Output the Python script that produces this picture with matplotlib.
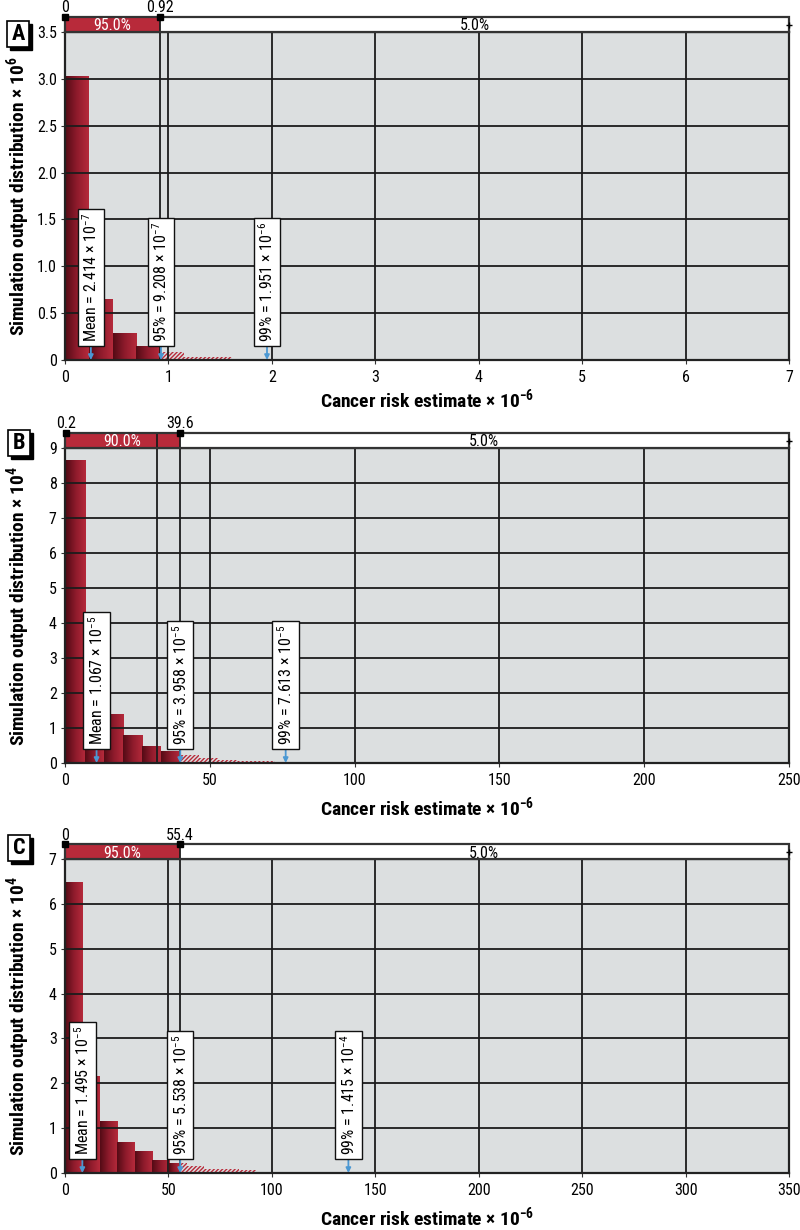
import numpy as np
import matplotlib
matplotlib.use('Agg')
import matplotlib.pyplot as plt
from matplotlib import font_manager as fm
from matplotlib.colors import LinearSegmentedColormap
from matplotlib.patches import Rectangle

# ---------- pick a condensed font if one is installed ----------
_entries = fm.fontManager.ttflist
_names = {f.name for f in _entries}
FAMILY = None
STRETCH = 'normal'
for cand in ['Liberation Sans Narrow', 'Roboto Condensed', 'Open Sans Condensed',
             'DejaVu Sans Condensed', 'Noto Sans Condensed']:
    if cand in _names:
        FAMILY = cand
        break
if FAMILY is None:
    for f in _entries:
        if f.stretch in ('condensed', 'semi-condensed') and f.name in (
                'DejaVu Sans', 'Roboto', 'Open Sans', 'Noto Sans', 'Liberation Sans', 'Inter'):
            FAMILY = f.name
            STRETCH = f.stretch
            break
if FAMILY is None:
    FAMILY = 'Roboto' if 'Roboto' in _names else 'DejaVu Sans'

plt.rcParams['font.family'] = [FAMILY, 'DejaVu Sans']
plt.rcParams['font.stretch'] = STRETCH
plt.rcParams['mathtext.fontset'] = 'custom'
_st = '' if STRETCH == 'normal' else ':stretch=' + STRETCH
plt.rcParams['mathtext.rm'] = FAMILY + _st
plt.rcParams['mathtext.bf'] = FAMILY + ':bold' + _st
plt.rcParams['mathtext.it'] = FAMILY + ':italic' + _st
plt.rcParams['hatch.linewidth'] = 1.0

# ---------------- data ----------------
# Panel A (x 10^-6, y 10^6)
a_solid_edges = [0, 0.23, 0.46, 0.69, 0.92]
a_solid_heights = [3.03, 0.654, 0.285, 0.15]
a_hatch_edges = [0.92, 1.15, 1.38, 1.61, 1.84, 2.07, 2.30, 2.53, 2.76]
a_hatch_heights = [0.082, 0.036, 0.034, 0.012, 0.011, 0.006, 0.0, 0.005]
a_marker_x = [0.25, 0.928, 1.953]
a_labels = ["Mean = 2.414 × 10$^{-7}$", "95% = 9.208 × 10$^{-7}$", "99% = 1.951 × 10$^{-6}$"]
a_strip_vals = [0, 0.92]
a_strip_ticklabels = ["0", "0.92"]
a_strip_texts = ["95.0%", "5.0%"]
a_vlines = [0.92]
a_xticks = [0, 1, 2, 3, 4, 5, 6, 7]
a_yticks = [0, 0.5, 1.0, 1.5, 2.0, 2.5, 3.0, 3.5]
a_yticklabels = ["0", "0.5", "1.0", "1.5", "2.0", "2.5", "3.0", "3.5"]

# Panel B (x 10^-6, y 10^4)
b_solid_edges = [0.2, 6.77, 13.33, 19.9, 26.47, 33.03, 39.6]
b_solid_heights = [8.66, 2.76, 1.41, 0.79, 0.49, 0.35]
b_hatch_edges = [39.6, 46.17, 52.73, 59.3, 65.87, 72.43, 79.0, 85.57]
b_hatch_heights = [0.22, 0.15, 0.09, 0.06, 0.06, 0.04, 0.04]
b_marker_x = [10.9, 39.8, 76.2]
b_labels = ["Mean = 1.067 × 10$^{-5}$", "95% = 3.958 × 10$^{-5}$", "99% = 7.613 × 10$^{-5}$"]
b_strip_vals = [0.2, 39.6]
b_strip_ticklabels = ["0.2", "39.6"]
b_strip_texts = ["90.0%", "5.0%"]
b_vlines = [31.7, 39.6]
b_xticks = [0, 50, 100, 150, 200, 250]
b_yticks = [0, 1, 2, 3, 4, 5, 6, 7, 8, 9]
b_yticklabels = [str(v) for v in b_yticks]

# Panel C (x 10^-6, y 10^4)
c_solid_edges = [0, 8.4, 16.8, 25.2, 33.6, 42.0, 50.4, 55.4]
c_solid_heights = [6.49, 2.17, 1.17, 0.69, 0.48, 0.28, 0.22]
c_hatch_edges = [55.4, 58.8, 67.2, 75.6, 84.0, 92.4, 100.8, 109.2, 117.6, 126.0, 134.4]
c_hatch_heights = [0.22, 0.16, 0.10, 0.10, 0.07, 0.03, 0.03, 0.02, 0.0, 0.01]
c_marker_x = [8.4, 55.7, 137.0]
c_labels = ["Mean = 1.495 × 10$^{-5}$", "95% = 5.538 × 10$^{-5}$", "99% = 1.415 × 10$^{-4}$"]
c_strip_vals = [0, 55.4]
c_strip_ticklabels = ["0", "55.4"]
c_strip_texts = ["95.0%", "5.0%"]
c_vlines = [55.4]
c_xticks = [0, 50, 100, 150, 200, 250, 300, 350]
c_yticks = [0, 1, 2, 3, 4, 5, 6, 7]
c_yticklabels = [str(v) for v in c_yticks]

panel_letters = ["A", "B", "C"]
y_exponents = ["6", "4", "4"]

# ---------------- layout ----------------
W, H = 800, 1230
fig = plt.figure(figsize=(W / 100, H / 100), dpi=100)

def fx(px):
    return px / W

def fy(py):
    return 1 - py / H

BG = '#dcdfe0'
RED = '#b82a3a'
BLUE = '#4b98d3'
GRID = '#1c1c1c'
cmap = LinearSegmentedColormap.from_list('bargrad', ['#540b15', '#8f1b2c', '#b52a3b'])
grad = np.linspace(0, 1, 64).reshape(1, -1)

panels = [
    dict(top=32, bottom=360, xlim=(0, 7), ylim=(0, 3.5), xlab_off=39,
         se=a_solid_edges, sh=a_solid_heights, he=a_hatch_edges, hh=a_hatch_heights,
         mx=a_marker_x, labels=a_labels, sv=a_strip_vals, stl=a_strip_ticklabels,
         st=a_strip_texts, vl=a_vlines, xt=a_xticks, yt=a_yticks, ytl=a_yticklabels,
         letter_c=(18, 34)),
    dict(top=448, bottom=763, xlim=(0, 250), ylim=(0, 9), xlab_off=44,
         se=b_solid_edges, sh=b_solid_heights, he=b_hatch_edges, hh=b_hatch_heights,
         mx=b_marker_x, labels=b_labels, sv=b_strip_vals, stl=b_strip_ticklabels,
         st=b_strip_texts, vl=b_vlines, xt=b_xticks, yt=b_yticks, ytl=b_yticklabels,
         letter_c=(19, 443)),
    dict(top=859, bottom=1173, xlim=(0, 350), ylim=(0, 7), xlab_off=44,
         se=c_solid_edges, sh=c_solid_heights, he=c_hatch_edges, hh=c_hatch_heights,
         mx=c_marker_x, labels=c_labels, sv=c_strip_vals, stl=c_strip_ticklabels,
         st=c_strip_texts, vl=c_vlines, xt=c_xticks, yt=c_yticks, ytl=c_yticklabels,
         letter_c=(19, 848)),
]

LEFT, RIGHT = 65, 789
STRIP_H = 15
narrow = FAMILY != 'DejaVu Sans' or STRETCH != 'normal'
FS = 11.5 if narrow else 9
FS_ANN = 11.5 if narrow else 9
FS_LAB = 14 if narrow else 10.5

for i, p in enumerate(panels):
    ax = fig.add_axes([fx(LEFT), fy(p['bottom']), fx(RIGHT - LEFT), (p['bottom'] - p['top']) / H])
    ax.set_facecolor(BG)
    ax.set_xlim(*p['xlim'])
    ax.set_ylim(*p['ylim'])
    ax_h_px = p['bottom'] - p['top']

    # solid bars with gradient
    se = np.array(p['se'])
    bars = ax.bar(se[:-1], p['sh'], width=np.diff(se), align='edge',
                  color='#8f1b2c', edgecolor='none', zorder=1)
    for rect in bars:
        x0, w, h = rect.get_x(), rect.get_width(), rect.get_height()
        im = ax.imshow(grad, extent=[x0, x0 + w, 0, h], cmap=cmap, aspect='auto',
                       zorder=1.2, interpolation='bilinear')
        im.set_clip_path(rect)
    # hatched bars
    he = np.array(p['he'])
    ax.bar(he[:-1], p['hh'], width=np.diff(he), align='edge', facecolor='none',
           edgecolor=RED, hatch='////////', linewidth=0, zorder=1.3)
    ax.set_xlim(*p['xlim'])
    ax.set_ylim(*p['ylim'])

    # grid
    ax.set_xticks(p['xt'])
    ax.set_yticks(p['yt'])
    ax.set_yticklabels(p['ytl'])
    ax.grid(True, color=GRID, lw=1.3, zorder=2)
    ax.set_axisbelow(False)
    for g in ax.get_xgridlines() + ax.get_ygridlines():
        g.set_zorder(2)
    for v in p['vl']:
        ax.axvline(v, color=GRID, lw=1.3, zorder=2)
    for s in ax.spines.values():
        s.set_color('#222222')
        s.set_linewidth(1.6)
        s.set_zorder(5)
    ax.tick_params(axis='both', labelsize=FS, length=3, color='#333333', pad=4)
    ax.tick_params(axis='y', pad=3)

    # annotations
    tr = ax.get_xaxis_transform()
    yb = 15.0 / ax_h_px
    for xv, lab in zip(p['mx'], p['labels']):
        ax.annotate('', xy=(xv, 0.0), xytext=(xv, yb), xycoords=tr, textcoords=tr,
                    arrowprops=dict(arrowstyle='-|>', color=BLUE, lw=1.3,
                                    mutation_scale=7, shrinkA=0, shrinkB=0),
                    zorder=6)
        ax.text(xv, yb + 3.0 / ax_h_px, lab, rotation=90, ha='center', va='bottom',
                transform=tr, fontsize=FS_ANN, zorder=7,
                bbox=dict(boxstyle='square,pad=0.24', fc='white', ec='#111111', lw=1.0))

    # labels
    ax.set_ylabel("Simulation output distribution × $\\mathbf{10^{%s}}$" % y_exponents[i],
                  fontsize=FS_LAB, fontweight='bold')
    ax.yaxis.set_label_coords(-47.0 / (RIGHT - LEFT), 0.5)
    ax.yaxis.label.set_va('center')
    ax.set_xlabel("Cancer risk estimate × $\\mathbf{10^{-6}}$", fontsize=FS_LAB, fontweight='bold')
    ax.xaxis.set_label_coords(0.5, -p['xlab_off'] / ax_h_px)
    ax.xaxis.label.set_va('center')

    # strip
    sax = fig.add_axes([fx(LEFT), fy(p['top']), fx(RIGHT - LEFT), STRIP_H / H])
    sax.set_xlim(*p['xlim'])
    sax.set_ylim(0, 1)
    sax.set_axis_off()
    lo, hi = p['sv']
    sax.add_patch(Rectangle((p['xlim'][0], 0), p['xlim'][1] - p['xlim'][0], 1,
                            fc='white', ec='none', zorder=1))
    sax.add_patch(Rectangle((lo, 0), hi - lo, 1, fc=RED, ec='none', zorder=2))
    sax.add_patch(Rectangle((p['xlim'][0], 0), p['xlim'][1] - p['xlim'][0], 1,
                            fc='none', ec='#333333', lw=1.6, zorder=4, clip_on=False))
    for v in p['vl']:
        sax.plot([v, v], [0, 1], color=GRID, lw=1.3, zorder=3)
    sax.text((lo + hi) / 2, 0.4, p['st'][0], color='white', ha='center', va='center',
             fontsize=FS, zorder=5)
    sax.text((hi + p['xlim'][1]) / 2, 0.4, p['st'][1], color='black', ha='center',
             va='center', fontsize=FS, zorder=5)
    sax.plot([lo, hi], [1, 1], ls='none', marker='s', ms=4.5, color='black',
             zorder=6, clip_on=False)
    sax.plot([p['xlim'][1]], [0.5], ls='none', marker='+', ms=5, mew=1, color='black',
             zorder=6, clip_on=False)
    for v, t in zip(p['sv'], p['stl']):
        sax.text(v, 1.6, t, ha='center', va='center', fontsize=FS, zorder=6,
                 clip_on=False)

    # panel letter box with shadow
    cx, cy = p['letter_c']
    bw, bh = 22, 26
    fig.patches.append(Rectangle((fx(cx - bw / 2 + 3), fy(cy + bh / 2 + 3)), bw / W, bh / H,
                                 transform=fig.transFigure, fc='black', ec='black', lw=1))
    fig.patches.append(Rectangle((fx(cx - bw / 2), fy(cy + bh / 2)), bw / W, bh / H,
                                 transform=fig.transFigure, fc='white', ec='black', lw=1.2))
    fig.text(fx(cx), fy(cy), panel_letters[i], ha='center', va='center', fontsize=16,
             fontweight='bold')

fig.savefig('out.png', dpi=100)
